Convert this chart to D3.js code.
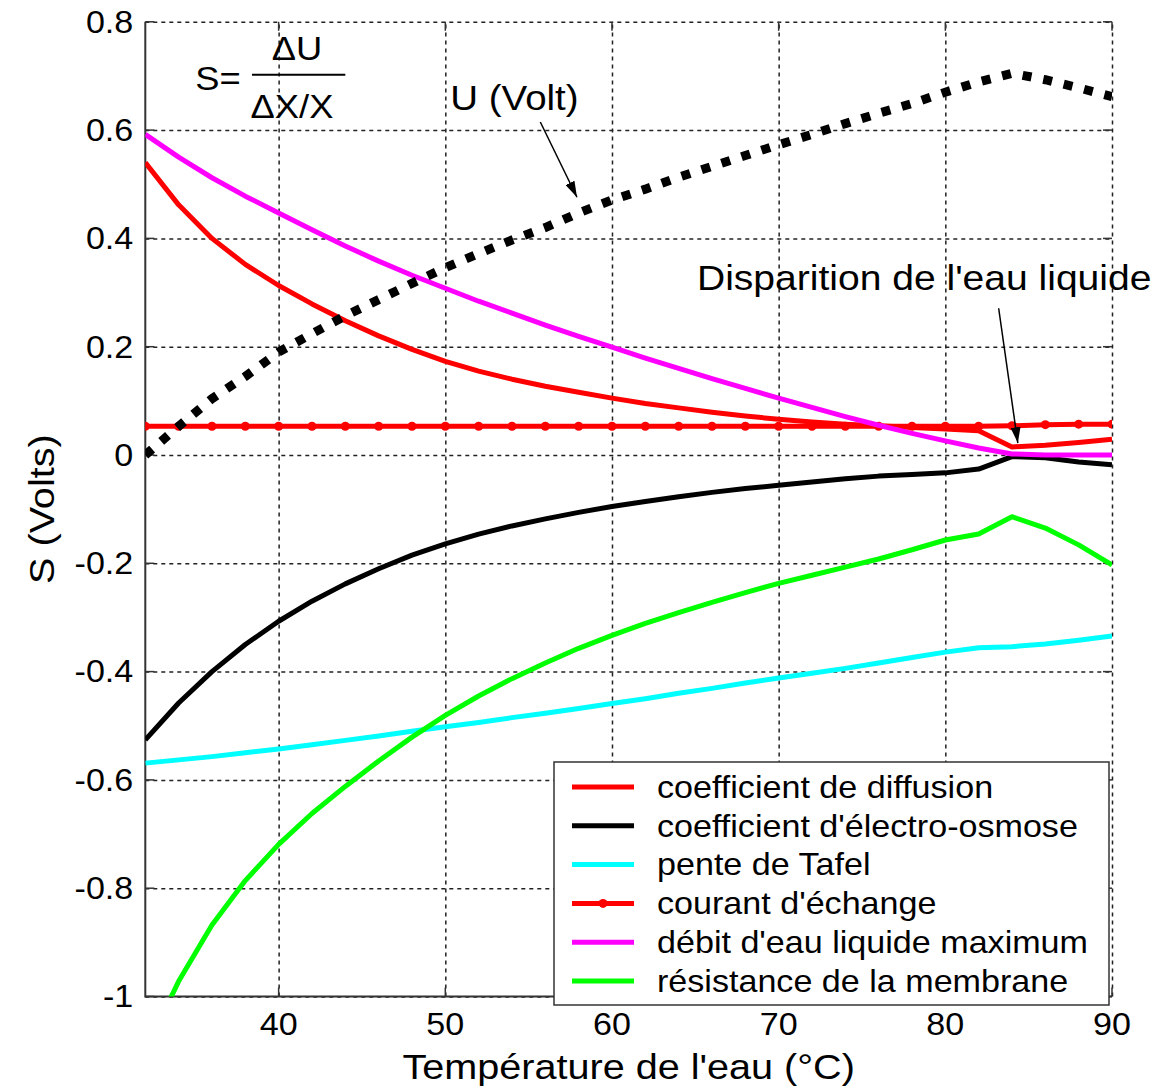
<!DOCTYPE html>
<html>
<head>
<meta charset="utf-8">
<script src="https://cdn.jsdelivr.net/npm/d3@7"></script>
<style>
  html, body { margin: 0; padding: 0; background: #fff; }
  svg { display: block; }
  text { font-family: "Liberation Sans", Arial, Helvetica, sans-serif; fill: #000; }
</style>
</head>
<body>
<svg id="chart" width="1173" height="1091"></svg>
<script>
// Water temperature (°C), sampled every 2 degrees
const temperature = [32,34,36,38,40,42,44,46,48,50,52,54,56,58,60,62,64,66,68,70,72,74,76,78,80,82,84,86,88,90];

// Sensitivity S (Volts) of the cell voltage to each parameter
const diffusion  = [0.54,0.462,0.4,0.352,0.313,0.279,0.248,0.22,0.195,0.173,0.155,0.14,0.127,0.116,0.105,0.095,0.087,0.079,0.072,0.066,0.061,0.057,0.054,0.051,0.048,0.045,0.015,0.018,0.023,0.029];
const osmose     = [-0.526,-0.458,-0.4,-0.35,-0.307,-0.27,-0.238,-0.21,-0.185,-0.164,-0.146,-0.131,-0.118,-0.106,-0.095,-0.086,-0.077,-0.069,-0.062,-0.056,-0.05,-0.044,-0.039,-0.036,-0.033,-0.026,-0.003,-0.005,-0.013,-0.018];
const tafel      = [-0.569,-0.563,-0.557,-0.55,-0.543,-0.535,-0.527,-0.519,-0.51,-0.502,-0.494,-0.485,-0.477,-0.468,-0.459,-0.45,-0.44,-0.431,-0.421,-0.412,-0.403,-0.394,-0.384,-0.374,-0.364,-0.356,-0.354,-0.349,-0.342,-0.334];
const courant    = [0.053,0.053,0.053,0.053,0.053,0.053,0.053,0.053,0.053,0.053,0.053,0.053,0.053,0.053,0.053,0.053,0.053,0.053,0.053,0.053,0.053,0.053,0.053,0.053,0.053,0.053,0.054,0.056,0.057,0.057];
const debitEau   = [0.592,0.55,0.512,0.478,0.447,0.416,0.386,0.358,0.332,0.308,0.284,0.262,0.24,0.219,0.199,0.179,0.16,0.141,0.123,0.105,0.088,0.071,0.055,0.04,0.026,0.013,0.002,0,0,0];
const resistance = [-1.1,-0.972,-0.868,-0.786,-0.719,-0.662,-0.612,-0.565,-0.521,-0.481,-0.445,-0.413,-0.384,-0.357,-0.333,-0.311,-0.291,-0.272,-0.254,-0.237,-0.222,-0.207,-0.192,-0.175,-0.157,-0.146,-0.114,-0.135,-0.166,-0.203];

// Cell voltage U (Volt)
const voltage    = [0,0.053,0.104,0.145,0.19,0.224,0.257,0.287,0.317,0.346,0.372,0.397,0.42,0.447,0.471,0.491,0.513,0.533,0.553,0.573,0.592,0.612,0.631,0.649,0.67,0.689,0.705,0.693,0.678,0.662];

// Axis ticks
const xTicks = [40,50,60,70,80,90];
const yTicks = [0.8,0.6,0.4,0.2,0,-0.2,-0.4,-0.6,-0.8,-1];

// Legend labels
const seriesNames = [
  "coefficient de diffusion",
  "coefficient d'électro-osmose",
  "pente de Tafel",
  "courant d'échange",
  "débit d'eau liquide maximum",
  "résistance de la membrane"
];

const series = [
  { name: seriesNames[0], values: diffusion,  color: "#ff0000" },
  { name: seriesNames[1], values: osmose,     color: "#000000" },
  { name: seriesNames[2], values: tafel,      color: "#00ffff" },
  { name: seriesNames[3], values: courant,    color: "#ff0000", dots: true },
  { name: seriesNames[4], values: debitEau,   color: "#ff00ff" },
  { name: seriesNames[5], values: resistance, color: "#00ff00" }
];

const svg = d3.select("#chart");
const pLeft = 145.3, pRight = 1112, pTop = 21.8, pBottom = 996.5;
const SX = 1.1; // horizontal glyph stretch used for all labels

const x = d3.scaleLinear().domain([32, 90]).range([pLeft, pRight]);
const y = d3.scaleLinear().domain([-1, 0.8]).range([pBottom, pTop]);

function label(g, txt, px, py, size, anchor, rotate) {
  return g.append("text")
    .attr("transform", `translate(${px},${py})` + (rotate ? ` rotate(${rotate})` : "") + ` scale(${SX},1)`)
    .attr("font-size", size)
    .attr("text-anchor", anchor || "start")
    .text(txt);
}

const defs = svg.append("defs");
// Clip for plot contents
defs.append("clipPath").attr("id", "plotClip")
  .append("rect").attr("x", pLeft).attr("y", pTop).attr("width", pRight - pLeft).attr("height", pBottom - pTop);

// Arrowhead
defs.append("marker")
  .attr("id", "arrowHead")
  .attr("viewBox", "0 0 16 10")
  .attr("refX", 16).attr("refY", 5)
  .attr("markerWidth", 16).attr("markerHeight", 10)
  .attr("markerUnits", "userSpaceOnUse")
  .attr("orient", "auto")
  .append("path").attr("d", "M0,0 L16,5 L0,10 Z").attr("fill", "#000");

// Grid (dashed)
const grid = svg.append("g");
const gridX = d3.axisBottom(x).tickValues(xTicks).tickSize(-(pBottom - pTop)).tickFormat("");
const gridY = d3.axisLeft(y).tickValues(yTicks).tickSize(-(pRight - pLeft)).tickFormat("");
grid.append("g").attr("transform", `translate(0,${pBottom})`).call(gridX);
grid.append("g").attr("transform", `translate(${pLeft},0)`).call(gridY);
grid.selectAll(".domain").remove();
grid.selectAll(".tick line")
  .attr("stroke", "#222")
  .attr("stroke-width", 1.5)
  .attr("stroke-dasharray", "4,4");

// Short solid ticks inside on every side
const ticks = svg.append("g").attr("stroke", "#333").attr("stroke-width", 1.5);
yTicks.forEach(v => {
  ticks.append("line").attr("x1", pLeft).attr("x2", pLeft + 9).attr("y1", y(v)).attr("y2", y(v));
  ticks.append("line").attr("x1", pRight - 9).attr("x2", pRight).attr("y1", y(v)).attr("y2", y(v));
});
xTicks.forEach(v => {
  ticks.append("line").attr("x1", x(v)).attr("x2", x(v)).attr("y1", pBottom).attr("y2", pBottom - 9);
  ticks.append("line").attr("x1", x(v)).attr("x2", x(v)).attr("y1", pTop).attr("y2", pTop + 9);
});

// Spines: left and bottom solid
svg.append("path")
  .attr("d", `M${pLeft},${pTop} V${pBottom} H${pRight}`)
  .attr("fill", "none").attr("stroke", "#333").attr("stroke-width", 2);

// Data lines
const plot = svg.append("g").attr("clip-path", "url(#plotClip)");
const line = d3.line().x((d, i) => x(temperature[i])).y(d => y(d));

series.forEach(s => {
  plot.append("path")
    .attr("d", line(s.values))
    .attr("fill", "none")
    .attr("stroke", s.color)
    .attr("stroke-width", 5)
    .attr("stroke-linejoin", "round");
  if (s.dots) {
    plot.selectAll(null).data(s.values).enter().append("circle")
      .attr("cx", (d, i) => x(temperature[i]))
      .attr("cy", d => y(d))
      .attr("r", 4.5)
      .attr("fill", s.color);
  }
});

// Voltage U: thick dotted black curve
plot.append("path")
  .attr("d", line(voltage))
  .attr("fill", "none")
  .attr("stroke", "#000")
  .attr("stroke-width", 9)
  .attr("stroke-dasharray", "9,12");

// Annotations
const ann = svg.append("g");
label(ann, "S=", x(35.0), y(0.674), 33, "start");
ann.append("line")
  .attr("x1", x(38.4)).attr("x2", x(44.0)).attr("y1", y(0.702)).attr("y2", y(0.702))
  .attr("stroke", "#000").attr("stroke-width", 2);
label(ann, "ΔU", x(41.1), y(0.729), 33, "middle");
label(ann, "ΔX/X", x(40.8), y(0.622), 33, "middle");

label(ann, "U (Volt)", x(50.3), y(0.637), 35, "start");
ann.append("line")
  .attr("x1", x(55.7)).attr("y1", y(0.615))
  .attr("x2", x(57.9)).attr("y2", y(0.476))
  .attr("stroke", "#000").attr("stroke-width", 1.5)
  .attr("marker-end", "url(#arrowHead)");

label(ann, "Disparition de l'eau liquide", x(65.1), y(0.305), 35.5, "start");
ann.append("line")
  .attr("x1", x(83.2)).attr("y1", y(0.271))
  .attr("x2", x(84.35)).attr("y2", y(0.022))
  .attr("stroke", "#000").attr("stroke-width", 1.5)
  .attr("marker-end", "url(#arrowHead)");

// Tick labels
const lab = svg.append("g");
yTicks.forEach(v => {
  label(lab, String(v), pLeft - 12, y(v), 31, "end").attr("dy", "0.35em");
});
xTicks.forEach(v => {
  label(lab, String(v), x(v), pBottom + 38, 31, "middle");
});

// Axis titles
label(lab, "Température de l'eau (°C)", (pLeft + pRight) / 2, pBottom + 82, 36, "middle");
label(lab, "S (Volts)", 54, (pTop + pBottom) / 2, 36, "middle", -90);

// Legend
const lg = svg.append("g");
const lgX = 554, lgY = 762, lgW = 555, lgH = 243, rowH = 38.8, row0 = 25;
lg.append("rect").attr("x", lgX).attr("y", lgY).attr("width", lgW).attr("height", lgH)
  .attr("fill", "#fff").attr("stroke", "#333").attr("stroke-width", 1.5);
series.forEach((s, i) => {
  const cy = lgY + row0 + i * rowH;
  lg.append("line").attr("x1", lgX + 18).attr("x2", lgX + 80).attr("y1", cy).attr("y2", cy)
    .attr("stroke", s.color).attr("stroke-width", 5);
  if (s.dots) {
    lg.append("circle").attr("cx", lgX + 49).attr("cy", cy).attr("r", 4.5).attr("fill", s.color);
  }
  label(lg, s.name, lgX + 103, cy, 31, "start").attr("dy", "0.35em");
});
</script>
</body>
</html>
